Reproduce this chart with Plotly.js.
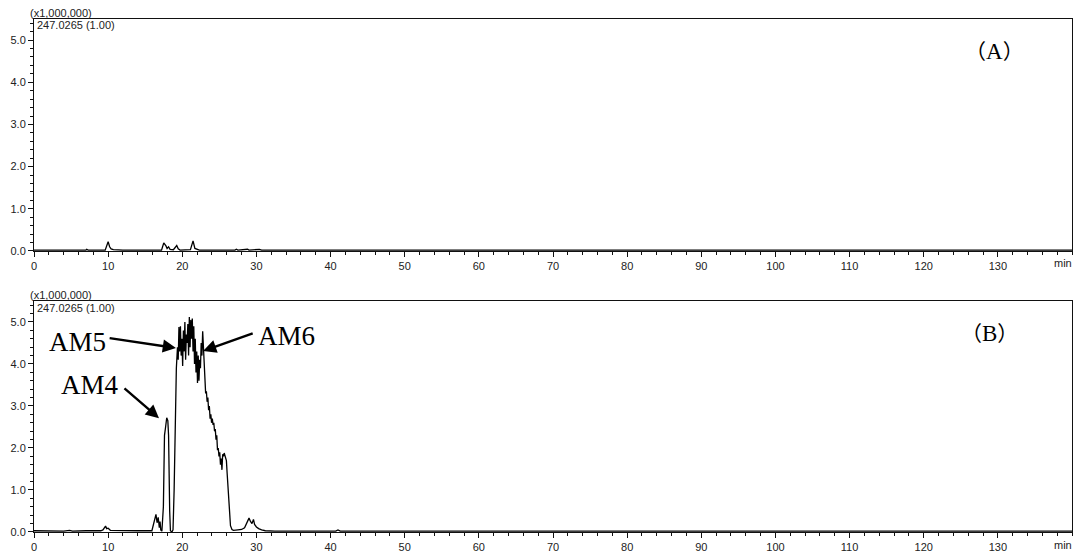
<!DOCTYPE html>
<html>
<head>
<meta charset="utf-8">
<script src="https://cdn.plot.ly/plotly-3.0.1.min.js"></script>
<style>
  html, body { margin: 0; padding: 0; background: #fff; }
  #chart { width: 1079px; height: 553px; }
</style>
</head>
<body>
<div id="chart"></div>
<script>
// Extracted ion chromatograms, m/z 247.0265; intensity in units of 1,000,000
const timeA = [0, 3, 5, 7, 7.1, 7.3, 9.6, 9.85, 10.0, 10.2, 10.4, 10.7, 12, 17.2, 17.5, 17.8, 17.95, 18.15, 18.35, 18.8, 19.0, 19.25, 19.45, 19.7, 21.1, 21.45, 21.7, 22.0, 22.3, 27.1, 27.3, 27.5, 28.8, 29.0, 30.1, 30.4, 30.7, 31.8, 32.1, 60, 100, 140];
const intensityA = [0.02, 0.02, 0.03, 0.02, 0.04, 0.02, 0.02, 0.12, 0.22, 0.10, 0.05, 0.03, 0.02, 0.02, 0.19, 0.12, 0.06, 0.10, 0.04, 0.03, 0.08, 0.13, 0.05, 0.02, 0.03, 0.24, 0.06, 0.03, 0.02, 0.02, 0.04, 0.02, 0.04, 0.02, 0.03, 0.04, 0.02, 0.03, 0.02, 0.02, 0.02, 0.02];

const timeB = [0, 2, 4, 4.8, 5.2, 7, 9, 9.3, 9.5, 9.65, 9.8, 10.0, 10.3, 12, 14, 15.9, 16.1, 16.3, 16.45, 16.6, 16.75, 16.9, 17.0, 17.1, 17.25, 17.45, 17.6, 17.75, 17.9, 18.05, 18.15, 18.3, 18.4, 18.6, 18.75, 18.9, 19.05, 19.2, 19.35, 19.45, 19.55, 19.65, 19.75, 19.85, 19.95, 20.05, 20.15, 20.25, 20.35, 20.45, 20.55, 20.65, 20.75, 20.85, 20.95, 21.05, 21.15, 21.25, 21.35, 21.45, 21.55, 21.65, 21.75, 21.85, 21.95, 22.05, 22.15, 22.25, 22.35, 22.45, 22.55, 22.65, 22.75, 22.85, 22.95, 23.05, 23.15, 23.25, 23.35, 23.45, 23.55, 23.65, 23.75, 23.85, 23.95, 24.05, 24.15, 24.25, 24.35, 24.45, 24.55, 24.65, 24.75, 24.85, 24.95, 25.05, 25.15, 25.25, 25.35, 25.45, 25.55, 25.65, 25.8, 25.95, 26.05, 26.2, 26.35, 26.5, 26.7, 26.9, 27.5, 28.0, 28.4, 28.7, 29.0, 29.2, 29.4, 29.6, 29.75, 30.0, 30.3, 30.7, 31.2, 32.5, 36, 40.7, 41.0, 41.3, 50, 70, 100, 140];
const intensityB = [0.03, 0.03, 0.02, 0.04, 0.02, 0.03, 0.03, 0.05, 0.12, 0.14, 0.08, 0.09, 0.04, 0.03, 0.03, 0.03, 0.15, 0.30, 0.42, 0.22, 0.35, 0.10, 0.25, 0.05, 0.02, 0.60, 2.30, 2.50, 2.72, 2.65, 2.30, 0.50, 0.03, 0.00, 0.05, 1.00, 2.80, 3.90, 4.40, 4.10, 4.88, 4.30, 4.90, 4.20, 4.60, 3.95, 4.80, 4.30, 5.00, 4.10, 4.70, 4.50, 4.95, 4.20, 5.12, 4.40, 5.05, 4.60, 5.08, 4.30, 4.90, 4.00, 4.60, 3.80, 4.30, 3.55, 4.20, 3.60, 4.10, 3.90, 4.50, 4.20, 4.78, 4.30, 4.30, 3.70, 3.30, 3.35, 3.10, 3.20, 2.90, 3.00, 2.70, 2.80, 2.60, 2.70, 2.55, 2.60, 2.40, 2.45, 2.20, 2.30, 1.95, 2.00, 1.80, 1.90, 1.60, 1.75, 1.48, 1.85, 1.80, 1.88, 1.80, 1.70, 1.40, 0.90, 0.40, 0.15, 0.06, 0.04, 0.05, 0.06, 0.10, 0.20, 0.33, 0.25, 0.20, 0.30, 0.18, 0.12, 0.08, 0.05, 0.03, 0.02, 0.02, 0.02, 0.05, 0.02, 0.02, 0.02, 0.02, 0.02];

// Peak labels with their arrows (text position, arrow tail, arrow head)
const peakNames = ["AM4", "AM5", "AM6"];
const labelTime = [7.6, 5.9, 34.1];
const labelIntensity = [3.5, 4.52, 4.67];
const tailTime = [12.0, 10.0, 29.7];
const tailIntensity = [3.45, 4.62, 4.74];
const headTime = [16.86, 19.15, 22.8];
const headIntensity = [2.71, 4.38, 4.31];

const xTicks = [0, 10, 20, 30, 40, 50, 60, 70, 80, 90, 100, 110, 120, 130];
const yTicks = [0, 1, 2, 3, 4, 5];

const tickFont = { family: "Liberation Sans, Arial, sans-serif", size: 11, color: "#222" };

function xAxis(anchor) {
  return {
    anchor: anchor, range: [0, 140], showgrid: false, zeroline: false,
    showline: true, linecolor: "#111", linewidth: 1, mirror: true,
    tickmode: "array", tickvals: xTicks, ticks: "outside", ticklen: 5, tickwidth: 1, tickcolor: "#111",
    tickfont: tickFont,
    minor: { dtick: 2, ticks: "outside", ticklen: 3, tickwidth: 1, tickcolor: "#111" }
  };
}
function yAxis(anchor, domain) {
  return {
    anchor: anchor, domain: domain, range: [0, 5.5], showgrid: false, zeroline: false,
    showline: true, linecolor: "#111", linewidth: 1, mirror: true,
    tickmode: "array", tickvals: yTicks, tickformat: ".1f", ticks: "outside", ticklen: 5, tickwidth: 1, tickcolor: "#111",
    tickfont: tickFont,
    minor: { dtick: 0.2, ticks: "outside", ticklen: 3, tickwidth: 1, tickcolor: "#111" }
  };
}

const traces = [
  { x: timeA, y: intensityA, xaxis: "x", yaxis: "y", type: "scatter", mode: "lines",
    line: { color: "#000", width: 1.3 }, hoverinfo: "skip" },
  { x: timeB, y: intensityB, xaxis: "x2", yaxis: "y2", type: "scatter", mode: "lines",
    line: { color: "#000", width: 1.3 }, hoverinfo: "skip" }
];

const smallFont = { family: "Liberation Sans, Arial, sans-serif", size: 11, color: "#222" };
const annotations = [];

// Panel headers: scale and ion
[[1.0117, 0.988], [0.462, 0.4366]].forEach(function (p) {
  annotations.push({ xref: "paper", yref: "paper", x: -0.0058, y: p[0], xanchor: "left", yanchor: "middle",
    text: "(x1,000,000)", showarrow: false, font: smallFont });
  annotations.push({ xref: "paper", yref: "paper", x: 0.001, y: p[1], xanchor: "left", yanchor: "middle",
    text: "247.0265 (1.00)", showarrow: false, font: smallFont });
});

// Axis unit at the end of each time axis
annotations.push({ xref: "x", yref: "paper", x: 138.8, y: 0.5244, text: "min", showarrow: false,
  xanchor: "center", yanchor: "middle", font: tickFont });
annotations.push({ xref: "x2", yref: "paper", x: 138.8, y: -0.0253, text: "min", showarrow: false,
  xanchor: "center", yanchor: "middle", font: tickFont });

// Panel letters
const letterFont = { family: "Noto Sans CJK SC, Liberation Serif, serif", size: 21, color: "#000" };
const letterInner = { family: "Liberation Serif, Times New Roman, serif", size: 23, color: "#000" };
annotations.push({ xref: "paper", yref: "paper", x: 0.925, y: 0.9396, showarrow: false,
  text: "（<span style=\"font-family:'Liberation Serif',serif;font-size:23px\">A</span>）",
  xanchor: "center", yanchor: "middle", font: letterFont });
annotations.push({ xref: "paper", yref: "paper", x: 0.921, y: 0.39, showarrow: false,
  text: "（<span style=\"font-family:'Liberation Serif',serif;font-size:23px\">B</span>）",
  xanchor: "center", yanchor: "middle", font: letterFont });

// Peak labels and arrows in panel B
const labelFont = { family: "Liberation Serif, Times New Roman, serif", size: 27, color: "#000" };
peakNames.forEach(function (name, i) {
  annotations.push({ xref: "x2", yref: "y2", x: labelTime[i], y: labelIntensity[i], text: name,
    showarrow: false, xanchor: "center", yanchor: "middle", font: labelFont });
  annotations.push({ xref: "x2", yref: "y2", x: headTime[i], y: headIntensity[i],
    axref: "x2", ayref: "y2", ax: tailTime[i], ay: tailIntensity[i], text: "",
    showarrow: true, arrowhead: 2, arrowsize: 1.1, arrowwidth: 2.4, arrowcolor: "#000", standoff: 0 });
});

const layout = {
  width: 1079, height: 553,
  margin: { l: 34, r: 7, t: 19, b: 21 },
  paper_bgcolor: "#fff", plot_bgcolor: "#fff",
  showlegend: false,
  xaxis: xAxis("y"),
  yaxis: yAxis("x", [0.5478, 1]),
  xaxis2: xAxis("y2"),
  yaxis2: yAxis("x2", [0, 0.4503]),
  annotations: annotations
};

Plotly.newPlot("chart", traces, layout, { staticPlot: true, displayModeBar: false });
</script>
</body>
</html>
